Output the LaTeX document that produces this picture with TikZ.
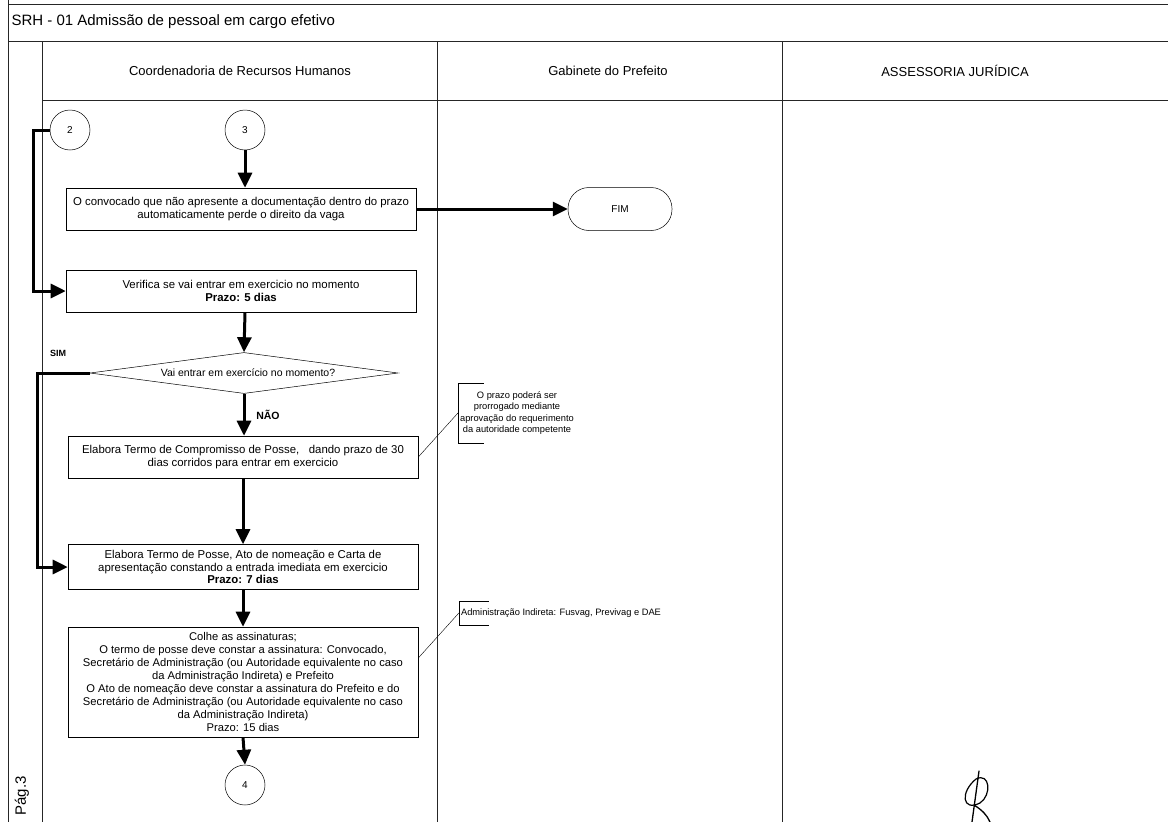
\documentclass[tikz,border=0pt]{standalone}
\usepackage{fontspec}
\setmainfont{Liberation Sans}
\usetikzlibrary{arrows.meta,shapes.geometric}
\begin{document}
\begin{tikzpicture}[x=1pt,y=-1pt,
  frame/.style={line width=0.7pt,black!85},
  pbox/.style={draw,line width=0.6pt,minimum width=350,minimum height=42,align=center,inner sep=2pt,font=\fontsize{11.4}{13.5}\selectfont},
  conn/.style={draw,circle,line width=0.5pt,minimum size=40,inner sep=0pt,font=\fontsize{10}{12}\selectfont},
  flow/.style={line width=3pt,-{Triangle[length=15pt,width=14pt]}},
  annot/.style={align=center,inner sep=2pt,font=\fontsize{9.3}{11.3}\selectfont},
  lbl/.style={font=\bfseries\fontsize{10.5}{12}\selectfont},
  lane/.style={font=\fontsize{13}{15}\selectfont}]
\useasboundingbox (0,0) rectangle (1168,822);
% frame
\draw[frame] (8,4) -- (1168,4);
\draw[frame] (8,0) -- (8,822);
\draw[frame] (8,41) -- (1168,41);
\draw[frame] (42,41) -- (42,822);
\draw[frame] (42,100) -- (1168,100);
\draw[frame] (437,41) -- (437,822);
\draw[frame] (782,41) -- (782,822);
\node[anchor=west,font=\fontsize{15}{17}\selectfont] (title) at (8,22) {SRH - 01 Admissão de pessoal em cargo efetivo};
\node[lane] (l1) at (240,71) {Coordenadoria de Recursos Humanos};
\node[lane] (l2) at (608,71) {Gabinete do Prefeito};
\node[lane] (l3) at (955,71) {ASSESSORIA JURÍDICA};
\node[rotate=90,font=\fontsize{15}{17}\selectfont] (pag) at (22,796) {Pág.3};
% nodes
\node[conn] (c2) at (70,130) {2};
\node[conn] (c3) at (245,130) {3};
\node[pbox] (b1) at (241,209) {O convocado que não apresente a documentação dentro do prazo\\automaticamente perde o direito da vaga};
\node[draw,line width=0.5pt,rounded corners=21pt,minimum width=104,minimum height=43,font=\fontsize{10}{12}\selectfont] (fim) at (620,209) {FIM};
\node[pbox] (b2) at (241,291) {Verifica se vai entrar em exercicio no momento\\\textbf{Prazo: 5 dias}};
\node[draw,diamond,aspect=7.5,line width=0.5pt,inner sep=0pt,minimum width=308,minimum height=41,font=\fontsize{10.5}{12}\selectfont] (d) at (244,373) {\hspace*{8pt}Vai entrar em exercício no momento?};
\node[pbox] (b3) at (243,457) {Elabora Termo de Compromisso de Posse,\ \ \ dando prazo de 30\\dias corridos para entrar em exercicio};
\node[pbox,minimum height=45,font=\fontsize{11.4}{12.8}\selectfont] (b4) at (243,567) {Elabora Termo de Posse, Ato de nomeação e Carta de\\apresentação constando a entrada imediata em exercicio\\\textbf{Prazo: 7 dias}};
\node[pbox,minimum height=110,font=\fontsize{11.2}{13}\selectfont] (b5) at (243,682) {Colhe as assinaturas;\\O termo de posse deve constar a assinatura: Convocado,\\Secretário de Administração (ou Autoridade equivalente no caso\\da Administração Indireta) e Prefeito\\O Ato de nomeação deve constar a assinatura do Prefeito e do\\Secretário de Administração (ou Autoridade equivalente no caso\\da Administração Indireta)\\Prazo: 15 dias};
\node[conn] (c4) at (245,785) {4};
% labels
\node[lbl,font=\bfseries\fontsize{9}{11}\selectfont] (sim) at (58,353) {SIM};
\node[lbl] (nao) at (268,415) {NÃO};
% annotations
\node[annot,minimum height=60] (n1) at (517,413) {O prazo poderá ser\\prorrogado mediante\\aprovação do requerimento\\da autoridade competente};
\draw[line width=0.5pt] ([xshift=26pt]n1.north west) -- (n1.north west) -- (n1.south west) -- ([xshift=26pt]n1.south west);
\draw[line width=0.4pt] (b3.east) -- (n1.west);
\node[annot,minimum height=24] (n2) at (561,613) {Administração Indireta: Fusvag, Previvag e DAE};
\draw[line width=0.5pt] ([xshift=30pt]n2.north west) -- (n2.north west) -- (n2.south west) -- ([xshift=30pt]n2.south west);
\draw[line width=0.4pt] ([yshift=24pt]b5.east) -- (n2.west);
% connectors
\draw[flow] (c3) -- (c3 |- b1.north);
\draw[flow] (b1.east) -- (fim.west);
\draw[flow] (c2.west) -- (33,130) |- (b2.west);
\draw[flow] (b2.south -| c3) -- (d.north);
\draw[flow] (d.west) -- (37,373) |- (b4.west);
\draw[flow] (d.south) -- (d.south |- b3.north);
\draw[flow] (b3.south) -- (b4.north);
\draw[flow] (b4.south) -- (b5.north);
\draw[flow] (b5.south) -- (c4.north);
% signature
\draw[line width=1.3pt,line cap=round] (979,771) -- (972,822);
\draw[line width=1.2pt] (976,779) .. controls (960,792) and (962,812) .. (980,803) .. controls (992,795) and (990,772) .. (976,779);
\draw[line width=1.3pt,line cap=round] (974,805) .. controls (982,810) and (987,815) .. (990,822);
\end{tikzpicture}
\end{document}
